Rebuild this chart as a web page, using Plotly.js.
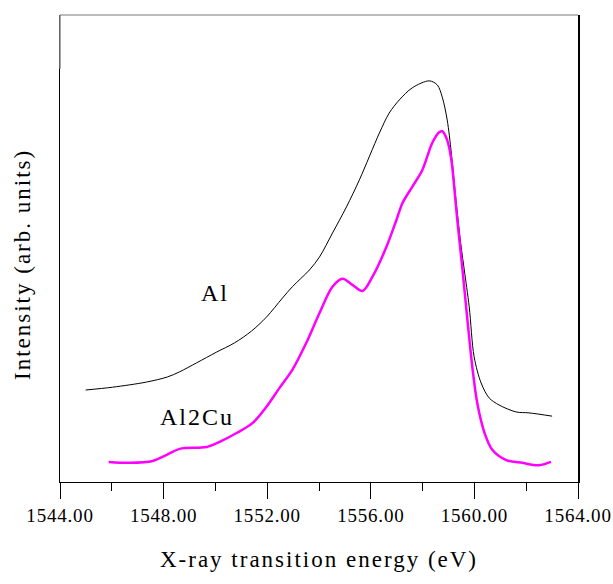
<!DOCTYPE html>
<html>
<head>
<meta charset="utf-8">
<script src="https://cdn.plot.ly/plotly-3.0.1.min.js"></script>
<style>
html,body{margin:0;padding:0;background:#fff;}
#chart{width:613px;height:584px;}
.xtick text{letter-spacing:0.8px;}
.g-xtitle text{letter-spacing:2px;}
.annotation-text{letter-spacing:2px;}
</style>
</head>
<body>
<div id="chart"></div>
<script>
// Al spectrum (black)
const alEnergy = [1544.99,1546.03,1547.34,1548.15,1548.62,1549.27,1550.04,1550.74,1551.39,1551.97,1552.59,1552.97,1553.63,1554.02,1554.52,1555.06,1555.56,1556.33,1556.71,1557.10,1557.60,1558.26,1558.57,1558.76,1558.95,1559.11,1559.30,1559.49,1559.61,1559.80,1559.99,1560.26,1560.57,1560.95,1561.61,1562.11,1563.00];
const alIntensity = [19.7,20.3,21.4,22.5,23.6,25.5,27.8,29.8,32.3,35.3,39.4,41.8,45.4,48.2,53.3,58.9,64.7,74.7,79.0,81.8,84.4,85.9,85.0,82.4,77.5,70.4,59.7,50.3,45.4,37.5,26.8,21.2,18.0,16.5,15.0,14.8,14.1];
// Al2Cu spectrum (magenta)
const al2cuEnergy = [1545.88,1546.69,1547.58,1548.12,1548.62,1549.66,1550.16,1550.82,1551.43,1551.97,1552.47,1552.97,1553.51,1554.02,1554.52,1554.91,1555.29,1555.68,1556.06,1556.60,1556.99,1557.22,1557.60,1557.99,1558.37,1558.64,1558.76,1558.95,1559.11,1559.22,1559.34,1559.53,1559.72,1559.92,1560.11,1560.38,1560.69,1561.23,1561.84,1562.50,1562.96];
const al2cuIntensity = [4.3,4.1,4.5,5.8,7.1,7.5,8.6,10.5,12.6,16.1,20.1,24.0,29.8,36.2,41.8,43.5,42.2,40.9,43.9,50.3,56.1,59.7,63.2,66.8,72.6,74.9,75.1,73.2,69.0,63.2,56.1,46.0,35.3,24.6,16.9,10.7,6.9,4.7,4.1,3.6,4.3];
const xTickVals = [1544,1548,1552,1556,1560,1564];
const xTickText = ["1544.00","1548.00","1552.00","1556.00","1560.00","1564.00"];
const seriesLabels = ["Al","Al2Cu"];
const labelPos = [[1550.0,40.5],[1549.3,14.0]];
const xTitle = 'X-ray transition energy (eV)';
const yTitle = 'Intensity (arb. units)';

const traces = [
  {x: alEnergy, y: alIntensity, type:'scatter', mode:'lines', name: seriesLabels[0],
   line:{color:'#000000', width:1, shape:'spline', smoothing:0.9}, hoverinfo:'skip'},
  {x: al2cuEnergy, y: al2cuIntensity, type:'scatter', mode:'lines', name: seriesLabels[1],
   line:{color:'#ff00ff', width:2.5, shape:'spline', smoothing:0.9}, hoverinfo:'skip'}
];

const serif = '"Liberation Serif", "Times New Roman", serif';
const layout = {
  width:613, height:584,
  margin:{l:60, r:35, t:15, b:102},
  paper_bgcolor:'#ffffff', plot_bgcolor:'#ffffff',
  showlegend:false,
  font:{family:serif, color:'#000'},
  xaxis:{
    range:[1544,1564], tickvals:xTickVals, ticktext:xTickText,
    ticks:'outside', ticklen:16, tickwidth:1, tickcolor:'#000',
    ticklabeloverflow:'allow',
    minor:{dtick:2, tick0:1544, ticks:'outside', ticklen:8, tickcolor:'#000', tickwidth:1, showgrid:false},
    showgrid:false, zeroline:false, showline:true, linecolor:'#000', linewidth:1, mirror:false,
    tickfont:{size:19, family:serif, color:'#000'},
    title:{text:xTitle, font:{size:23, family:serif, color:'#000'}, standoff:26}
  },
  yaxis:{
    range:[0,100], showticklabels:false, ticks:'', showgrid:false, zeroline:false,
    showline:true, linecolor:'#000', linewidth:1.5, mirror:true,
    title:{text:''}
  },
  shapes:[
    {type:'line', xref:'paper', yref:'paper', x0:0, x1:1, y0:1, y1:1, line:{color:'#777', width:1}},
    {type:'line', xref:'paper', yref:'paper', x0:0, x1:0, y0:0.885, y1:1, line:{color:'#888', width:1.5}}
  ],
  annotations:[
    {x:labelPos[0][0], y:labelPos[0][1], xref:'x', yref:'y', text:seriesLabels[0], showarrow:false,
     font:{size:24, family:serif, color:'#000'}},
    {x:labelPos[1][0], y:labelPos[1][1], xref:'x', yref:'y', text:seriesLabels[1], showarrow:false,
     font:{size:24, family:serif, color:'#000'}},
    {x:-0.0714, y:0.4647, xref:'paper', yref:'paper', text:yTitle, showarrow:false, textangle:-90,
     xanchor:'center', yanchor:'middle', font:{size:23, family:serif, color:'#000'}}
  ]
};

Plotly.newPlot('chart', traces, layout, {staticPlot:true, displayModeBar:false});
</script>
</body>
</html>
